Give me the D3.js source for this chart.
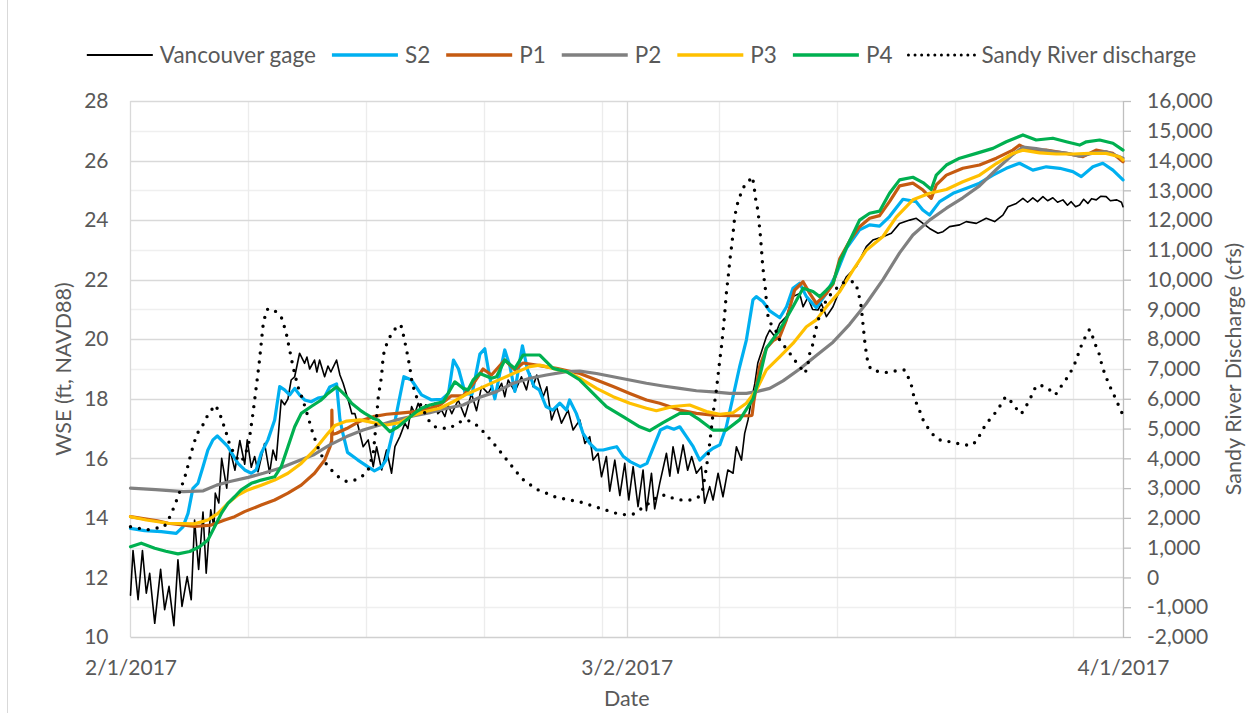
<!DOCTYPE html>
<html>
<head>
<meta charset="utf-8">
<script src="https://cdn.jsdelivr.net/npm/d3@7"></script>
<style>
  body { margin: 0; background: #fff; }
  text { font-family: Lato, "Open Sans", sans-serif; fill: #595959; }
</style>
</head>
<body>
<svg id="chart" width="1251" height="713"></svg>
<script>
// ---- data: [day offset from 2/1/2017, value] ----
const vancouverGage = [
  [0,11.4],[0.15,12.9],[0.45,11.25],[0.71,12.9],[0.94,11.47],[1.14,12.14],[1.44,10.46],[1.79,12.27],
  [2.03,10.92],[2.29,11.7],[2.58,10.38],[2.82,12.59],[3.06,11.03],[3.37,12.03],[3.61,11.25],[3.81,13.93],
  [4.05,12.27],[4.31,14.2],[4.5,12.14],[4.77,14.27],[4.96,13.7],[5.04,14.83],[5.25,14.5],[5.42,16.0],
  [5.72,15.0],[5.91,16.3],[6.21,15.6],[6.5,16.6],[6.79,15.8],[6.94,16.62],[7.18,15.7],[7.38,16.06],
  [7.58,15.55],[7.97,16.5],[8.27,15.5],[8.47,16.28],[8.66,15.94],[8.96,17.96],[9.16,17.8],[9.36,18.0],
  [9.55,18.63],[9.76,18.74],[10.05,19.53],[10.35,19.19],[10.49,19.4],[10.65,19.0],[10.94,19.3],[11.08,18.9],
  [11.24,19.3],[11.54,18.74],[11.74,19.1],[11.91,18.9],[12.25,19.3],[12.45,18.8],[12.64,18.52],[12.94,17.96],
  [13.16,17.5],[13.34,17.5],[13.54,17.06],[13.83,16.39],[14.13,16.62],[14.43,15.72],[14.63,16.39],[14.93,15.61],
  [15.22,16.28],[15.52,15.5],[15.72,16.39],[16.01,16.73],[16.31,17.18],[16.49,17.0],[16.71,17.74],[16.9,17.5],
  [17.1,17.85],[17.32,17.55],[17.56,17.8],[17.8,17.55],[18.09,17.85],[18.27,17.5],[18.49,17.62],[18.69,17.4],
  [18.87,17.8],[19.1,17.5],[19.48,17.96],[19.88,17.4],[20.27,18.18],[20.57,17.6],[20.87,18.41],[21.26,18.18],
  [21.48,18.4],[21.66,18.1],[22.06,18.52],[22.25,18.07],[22.45,18.63],[22.85,18.24],[23.24,18.74],[23.54,18.3],
  [23.75,18.85],[23.93,18.41],[24.15,18.8],[24.53,18.07],[24.75,18.4],[25.03,17.29],[25.32,17.74],[25.62,17.18],
  [26.01,17.62],[26.31,16.95],[26.71,17.29],[27.01,16.5],[27.3,16.73],[27.5,15.94],[27.8,16.17],[28.0,15.38],
  [28.29,16.06],[28.49,14.9],[28.79,15.94],[29.09,14.75],[29.38,15.83],[29.62,14.6],[29.88,15.72],[30.17,14.38],
  [30.47,15.61],[30.67,14.24],[30.97,15.5],[31.16,14.3],[31.46,15.16],[31.86,16.17],[32.06,15.4],[32.25,16.39],
  [32.55,15.5],[32.85,16.45],[33.12,15.6],[33.36,16.06],[33.64,15.5],[33.94,15.72],[34.13,14.49],[34.43,15.05],
  [34.63,14.6],[34.93,15.5],[35.22,14.71],[35.51,15.61],[35.82,15.5],[36.02,16.39],[36.32,15.94],[36.51,16.84],
  [36.71,17.29],[36.91,17.96],[37.11,18.5],[37.29,19.2],[37.52,19.6],[37.8,20.08],[38.0,20.31],[38.29,20.1],
  [38.59,20.53],[38.99,20.76],[39.38,21.43],[39.78,21.54],[39.98,21.09],[40.26,21.4],[40.55,21.0],[40.87,20.98],
  [41.07,21.2],[41.37,20.76],[41.76,21.09],[42.16,21.65],[42.56,22.1],[43.15,22.44],[43.74,23.11],[44.13,23.33],
  [44.73,23.44],[45.23,23.56],[45.72,23.89],[46.32,24.0],[46.71,24.06],[47.11,23.89],[47.5,23.72],[48.0,23.56],
  [48.3,23.61],[48.69,23.78],[49.29,23.84],[49.68,23.95],[50.28,23.89],[50.87,24.06],[51.37,23.95],[51.86,24.17],
  [52.16,24.45],[52.66,24.56],[53.05,24.73],[53.33,24.6],[53.64,24.75],[53.92,24.62],[54.24,24.79],[54.52,24.65],
  [54.83,24.75],[55.11,24.6],[55.43,24.68],[55.7,24.5],[55.92,24.62],[56.18,24.45],[56.42,24.51],[56.66,24.7],
  [56.91,24.56],[57.13,24.72],[57.41,24.68],[57.67,24.8],[58.0,24.79],[58.25,24.65],[58.63,24.68],[58.91,24.6],
  [59,24.45]
];

const s2 = [
  [0,13.65],[0.84,13.57],[1.83,13.54],[2.72,13.48],[3.12,13.7],[3.42,14.15],[3.71,14.99],[4.01,15.16],
  [4.31,15.72],[4.6,16.28],[4.9,16.62],[5.16,16.75],[5.5,16.56],[5.79,16.39],[6.09,16.11],[6.39,15.83],
  [6.79,15.61],[7.18,15.5],[7.47,15.61],[7.77,16.17],[8.17,16.62],[8.57,17.29],[8.87,18.41],[9.16,18.3],
  [9.46,18.13],[9.76,18.35],[10.05,18.13],[10.35,17.96],[10.74,17.9],[11.14,18.02],[11.54,18.07],[11.85,18.4],
  [12.25,18.5],[12.45,17.3],[12.6,16.9],[12.9,16.2],[13.5,15.95],[14.1,15.72],[14.5,15.58],[14.9,15.7],
  [15.2,15.95],[15.6,16.9],[15.95,17.9],[16.25,18.74],[16.7,18.63],[17.3,18.13],[17.9,17.96],[18.5,17.98],
  [18.9,18.18],[19.2,19.3],[19.5,19.0],[19.9,18.18],[20.3,18.15],[20.77,19.5],[21.06,19.68],[21.36,18.7],
  [21.66,18.0],[21.95,18.85],[22.25,19.64],[22.55,19.1],[22.85,18.25],[23.15,19.3],[23.3,19.78],[23.6,18.97],
  [24.0,18.41],[24.3,18.3],[24.7,17.74],[25.1,17.62],[25.52,17.85],[25.92,17.62],[26.1,17.96],[26.5,17.51],
  [26.9,16.84],[27.3,16.5],[27.7,16.28],[28.1,16.28],[28.5,16.34],[28.9,16.39],[29.3,16.06],[29.7,15.89],
  [30.3,15.72],[30.7,15.83],[31.1,16.39],[31.5,16.95],[31.9,17.06],[32.3,16.98],[32.65,17.06],[33.05,16.73],
  [33.45,16.39],[33.84,15.94],[34.24,16.17],[34.63,16.34],[35.03,16.45],[35.42,17.06],[35.82,18.07],[36.2,19.05],
  [36.61,19.97],[37.0,21.32],[37.2,21.43],[37.6,21.26],[38.0,20.95],[38.6,20.72],[39.0,21.09],[39.38,21.71],
  [39.78,21.88],[40.18,21.43],[40.77,21.06],[41.37,21.54],[41.97,22.21],[42.56,23.05],[43.34,23.67],[43.94,23.84],
  [44.53,23.8],[45.12,24.12],[45.92,24.7],[46.7,24.62],[47.1,24.34],[47.5,24.17],[48.1,24.62],[48.9,24.9],
  [49.7,25.07],[50.47,25.24],[51.27,25.51],[52.06,25.74],[52.85,25.91],[53.64,25.68],[54.44,25.79],[55.24,25.74],
  [56.02,25.63],[56.52,25.46],[57.21,25.79],[57.8,25.91],[58.4,25.68],[59,25.35]
];

const p1 = [
  [0,14.04],[1.6,13.9],[2.24,13.82],[3.8,13.71],[4.8,13.76],[5.6,13.93],[6.19,14.04],[6.78,14.21],
  [7.77,14.43],[8.57,14.6],[9.36,14.83],[10.15,15.1],[10.94,15.5],[11.54,15.94],[11.87,16.4],[11.96,16.6],
  [11.97,17.62],[12.0,16.8],[12.25,16.84],[12.85,17.0],[13.64,17.25],[14.43,17.4],[15.23,17.48],[16.0,17.52],
  [16.8,17.56],[17.6,17.65],[18.39,17.79],[19.08,18.1],[19.77,18.1],[20.37,18.5],[20.96,19.0],[21.46,18.8],
  [22.25,19.3],[22.85,18.97],[23.34,19.2],[24.13,19.13],[25.32,19.02],[26.71,18.85],[27.7,18.63],[28.69,18.41],
  [29.68,18.18],[30.67,17.96],[31.46,17.85],[32.65,17.62],[33.64,17.51],[34.63,17.45],[35.62,17.43],[36.85,17.43],
  [36.95,17.45],[37.05,17.9],[37.2,18.4],[37.4,19.08],[37.8,19.7],[38.2,19.95],[38.59,20.08],[38.99,20.65],
  [39.48,21.65],[39.98,21.93],[40.38,21.54],[40.77,21.2],[41.37,21.54],[41.76,21.85],[42.16,22.7],[42.75,23.3],
  [43.34,23.78],[43.94,24.06],[44.53,24.15],[45.12,24.62],[45.72,25.15],[46.51,25.24],[47.11,25.01],[47.6,24.73],
  [47.9,25.18],[48.5,25.51],[49.48,25.74],[50.47,25.85],[51.47,26.08],[52.45,26.35],[52.85,26.52],[53.45,26.35],
  [54.44,26.35],[55.63,26.24],[56.62,26.13],[57.4,26.35],[58.4,26.24],[59,25.96]
];

const p2 = [
  [0,15.0],[1.5,14.95],[3.14,14.88],[4.33,14.91],[5.12,15.1],[5.91,15.22],[7.0,15.36],[7.89,15.5],
  [8.88,15.67],[9.88,15.89],[10.86,16.11],[11.85,16.45],[12.85,16.73],[13.83,16.95],[14.82,17.12],[15.82,17.29],
  [16.8,17.42],[17.8,17.53],[18.79,17.68],[19.77,17.79],[20.77,18.05],[21.76,18.24],[22.75,18.52],[23.74,18.69],
  [24.73,18.8],[25.92,18.91],[26.71,18.93],[27.7,18.85],[28.69,18.74],[29.68,18.63],[30.67,18.52],[31.66,18.43],
  [32.65,18.35],[33.64,18.27],[34.63,18.23],[35.62,18.18],[36.61,18.18],[37.21,18.24],[38.0,18.35],[38.79,18.6],
  [39.78,19.0],[40.77,19.45],[41.76,19.9],[42.75,20.5],[43.74,21.2],[44.73,22.0],[45.72,22.9],[46.51,23.5],
  [47.5,24.0],[48.5,24.4],[49.48,24.75],[50.47,25.15],[51.47,25.7],[52.45,26.2],[53.05,26.45],[53.84,26.4],
  [54.83,26.3],[55.63,26.25],[56.42,26.15],[57.21,26.25],[58.0,26.3],[59,26.08]
];

const p3 = [
  [0,14.04],[0.94,13.93],[2.24,13.82],[3.8,13.8],[4.6,13.93],[5.2,14.15],[5.79,14.49],[6.39,14.77],
  [6.98,14.94],[7.77,15.1],[8.57,15.27],[9.36,15.5],[10.15,15.83],[10.94,16.28],[11.74,16.84],[12.15,17.1],
  [12.85,17.25],[13.64,17.29],[14.43,17.2],[15.23,17.12],[16.0,17.2],[16.8,17.45],[17.6,17.58],[18.39,17.68],
  [19.18,17.9],[19.96,18.15],[20.77,18.35],[21.76,18.6],[22.75,18.85],[23.74,19.08],[24.33,19.13],[25.12,19.02],
  [25.92,18.91],[26.71,18.69],[27.7,18.35],[28.69,18.07],[29.68,17.85],[30.67,17.68],[31.26,17.6],[32.25,17.74],
  [33.24,17.79],[34.24,17.57],[35.03,17.48],[35.82,17.53],[36.61,17.85],[37.21,18.3],[37.8,18.97],[38.59,19.41],
  [39.38,19.86],[40.18,20.42],[40.77,20.65],[41.37,21.09],[42.16,21.6],[42.95,22.32],[43.74,22.99],[44.73,23.45],
  [45.52,24.1],[46.51,24.68],[47.5,24.9],[48.5,25.03],[49.48,25.29],[50.47,25.51],[51.47,25.9],[52.45,26.24],
  [53.05,26.35],[54.04,26.26],[55.03,26.22],[56.02,26.22],[57.01,26.24],[58.0,26.24],[58.79,26.13],[59,26.02]
];

const p4 = [
  [0,13.03],[0.64,13.15],[1.44,12.98],[2.1,12.88],[2.82,12.79],[3.52,12.87],[4.11,13.03],[4.6,13.26],
  [5.0,13.7],[5.4,14.15],[5.79,14.49],[6.19,14.71],[6.58,14.94],[7.18,15.16],[7.77,15.27],[8.57,15.38],
  [8.96,15.72],[9.36,16.39],[9.76,17.06],[10.15,17.51],[10.74,17.74],[11.34,17.96],[11.74,18.18],[12.25,18.4],
  [12.85,18.07],[13.14,17.85],[13.64,17.62],[13.93,17.51],[14.43,17.34],[14.72,17.29],[15.42,16.9],[15.91,17.06],
  [16.51,17.34],[17.01,17.57],[17.3,17.68],[17.8,17.79],[18.59,17.9],[19.28,18.57],[19.77,18.35],[20.07,18.3],
  [20.37,18.63],[20.77,18.85],[21.46,18.69],[21.76,18.74],[22.25,19.3],[22.85,19.02],[23.34,19.47],[24.33,19.47],
  [25.12,19.02],[25.92,18.91],[26.71,18.63],[27.5,18.18],[28.29,17.74],[29.28,17.4],[30.27,17.06],[30.87,16.93],
  [31.66,17.2],[32.65,17.51],[33.24,17.51],[33.84,17.29],[34.63,16.95],[35.42,16.95],[36.22,17.3],[37.01,18.0],
  [37.4,18.74],[37.8,19.7],[38.59,20.31],[39.38,21.09],[39.98,21.71],[40.57,21.6],[40.97,21.43],[41.37,21.65],
  [41.76,21.88],[42.16,22.6],[42.75,23.3],[43.34,24.0],[43.94,24.23],[44.53,24.3],[45.12,24.9],[45.72,25.35],
  [46.51,25.44],[47.11,25.26],[47.6,25.03],[47.9,25.51],[48.5,25.85],[49.29,26.08],[50.28,26.24],[51.27,26.41],
  [52.06,26.63],[53.05,26.86],[53.84,26.69],[54.83,26.75],[55.63,26.63],[56.42,26.52],[56.82,26.63],[57.61,26.69],
  [58.4,26.58],[59,26.35]
];

// Sandy River discharge, cfs (secondary axis)
const sandyDischarge = [
  [0,1700],[0.5,1650],[1.0,1600],[1.5,1650],[2.0,1700],[2.3,1990],[2.6,2380],[2.9,2830],
  [3.1,3160],[3.3,3500],[3.45,3830],[3.6,4170],[3.8,4560],[4.0,4860],[4.3,5120],[4.6,5460],
  [4.8,5620],[5.05,5790],[5.3,5510],[5.5,5180],[5.7,4840],[5.9,4450],[6.15,4170],[6.4,3950],
  [6.6,3880],[7.0,4390],[7.28,5510],[7.48,6410],[7.67,7300],[7.87,8420],[8.07,8980],[8.27,9040],
  [8.67,8920],[9.0,8700],[9.26,8200],[9.46,7640],[9.66,7080],[9.95,6410],[10.25,5960],[10.55,5400],
  [10.84,4840],[11.24,4220],[11.73,3720],[12.45,3330],[12.85,3220],[13.34,3270],[13.74,3380],[14.13,3610],
  [14.43,4170],[14.53,4730],[14.63,5400],[14.73,6070],[14.92,6740],[15.02,7410],[15.12,7690],[15.42,8080],
  [15.82,8420],[16.07,8480],[16.2,8200],[16.41,7640],[16.6,7080],[16.74,6520],[17.0,6070],[17.3,5740],
  [17.7,5290],[18.1,5060],[18.5,5010],[19.0,5010],[19.4,5180],[19.9,5290],[20.3,5230],[20.7,5060],
  [21.06,4840],[21.36,4650],[21.66,4450],[22.06,4170],[22.45,3890],[22.85,3610],[23.24,3330],[23.64,3160],
  [24.23,2940],[24.73,2830],[25.22,2710],[26.1,2600],[26.7,2540],[27.6,2380],[28.1,2290],[28.9,2150],
  [29.48,2100],[29.9,2130],[30.6,2400],[31.2,2650],[31.76,2770],[32.25,2660],[32.75,2600],[33.25,2600],
  [33.74,2690],[34.0,2900],[34.24,3700],[34.43,4500],[34.53,5000],[34.63,5500],[34.73,5900],[34.83,6300],
  [34.93,6800],[35.03,7300],[35.13,7750],[35.23,8300],[35.33,8900],[35.43,9600],[35.53,10100],[35.63,10660],
  [35.73,11110],[35.82,11560],[35.92,12120],[36.06,12510],[36.22,12790],[36.41,13070],[36.61,13240],[36.81,13350],
  [36.97,13460],[37.07,13120],[37.17,12680],[37.31,12280],[37.37,11900],[37.45,11440],[37.51,11000],[37.57,10550],
  [37.65,10100],[37.75,9650],[37.81,9200],[37.9,8760],[38.1,8480],[38.4,8250],[38.59,7970],[38.89,7750],
  [39.19,7530],[39.48,7300],[39.78,7080],[40.1,6850],[40.28,7190],[40.38,7530],[40.58,7860],[40.68,8200],
  [40.88,8640],[41.08,8980],[41.37,9320],[41.67,9540],[41.97,9710],[42.26,9880],[42.56,9930],[42.86,9930],
  [43.05,9930],[43.24,9650],[43.44,9090],[43.54,8530],[43.64,7970],[43.74,7530],[43.84,7190],[44.03,6970],
  [44.53,6910],[45.02,6880],[45.52,6940],[46.02,6970],[46.22,6740],[46.42,6460],[46.52,6180],[46.68,5900],
  [46.87,5680],[47.01,5420],[47.21,5180],[47.5,4950],[47.8,4730],[48.2,4590],[48.69,4560],[49.18,4500],
  [49.64,4450],[50.08,4450],[50.37,4670],[50.63,4920],[50.87,5180],[51.17,5350],[51.46,5570],[51.76,5820],
  [52.02,6070],[52.36,5900],[52.65,5680],[52.95,5490],[53.25,5760],[53.45,5960],[53.64,6200],[53.84,6440],
  [54.2,6440],[54.63,6300],[54.98,6130],[55.27,6380],[55.52,6570],[55.82,6830],[56.06,7080],[56.26,7360],
  [56.42,7640],[56.58,7860],[56.77,8090],[57.01,8330],[57.21,8060],[57.37,7800],[57.57,7530],[57.77,7080],
  [57.96,6770],[58.16,6500],[58.36,6240],[58.55,6020],[58.75,5760],[58.95,5510],[59,5300]
];

const seriesNames = ["Vancouver gage", "S2", "P1", "P2", "P3", "P4", "Sandy River discharge"];
const seriesColors = ["#000000", "#00B0F0", "#C55A11", "#808080", "#FFC000", "#00B050", "#000000"];
const xTickDays = [0, 29.5, 59];
const xTickLabels = ["2/1/2017", "3/2/2017", "4/1/2017"];
const leftTicks = [10, 12, 14, 16, 18, 20, 22, 24, 26, 28];
const rightTicks = d3.range(-2000, 16001, 1000);

// ---- layout ----
const svg = d3.select("#chart");
const plot = { left: 130.5, right: 1123, top: 101, bottom: 637 };
const t0 = Date.UTC(2017, 1, 1);
const toDate = d => new Date(t0 + d * 86400000);

const x = d3.scaleUtc().domain([toDate(0), toDate(59)]).range([plot.left, plot.right]);
const yL = d3.scaleLinear().domain([10, 28]).range([plot.bottom, plot.top]);
const yR = d3.scaleLinear().domain([-2000, 16000]).range([plot.bottom, plot.top]);

const tickFont = 21, titleFont = 21.5, legendFont = 22.5;
const fontFamily = "Lato, 'Open Sans', sans-serif";

// chart frame
svg.append("line").attr("x1", 7.5).attr("x2", 7.5).attr("y1", 0).attr("y2", 713)
  .attr("stroke", "#d9d9d9").attr("stroke-width", 1);

// gridlines
const grid = svg.append("g");
d3.range(11, 28, 2).forEach(v => {
  grid.append("line").attr("x1", plot.left).attr("x2", plot.right)
    .attr("y1", Math.round(yL(v)) + 0.5).attr("y2", Math.round(yL(v)) + 0.5)
    .attr("stroke", "#efefef").attr("stroke-width", 1.3);
});
d3.range(7, 59, 7).forEach(d => {
  const px = Math.round(x(toDate(d))) + 0.5;
  grid.append("line").attr("x1", px).attr("x2", px).attr("y1", plot.top).attr("y2", plot.bottom)
    .attr("stroke", "#ececec").attr("stroke-width", 1.3);
});
d3.range(12, 29, 2).forEach(v => {
  grid.append("line").attr("x1", plot.left).attr("x2", plot.right)
    .attr("y1", Math.round(yL(v)) + 0.5).attr("y2", Math.round(yL(v)) + 0.5)
    .attr("stroke", "#d9d9d9").attr("stroke-width", 1.3);
});
{
  const px = Math.round(x(toDate(29.5))) + 0.5;
  grid.append("line").attr("x1", px).attr("x2", px).attr("y1", plot.top).attr("y2", plot.bottom)
    .attr("stroke", "#d9d9d9").attr("stroke-width", 1.3);
}
// axis lines
grid.append("line").attr("x1", plot.left).attr("x2", plot.left).attr("y1", plot.top).attr("y2", plot.bottom)
  .attr("stroke", "#d9d9d9").attr("stroke-width", 1.3);
grid.append("line").attr("x1", plot.left).attr("x2", plot.right).attr("y1", plot.bottom + 0.5).attr("y2", plot.bottom + 0.5)
  .attr("stroke", "#d0d0d0").attr("stroke-width", 1.3);

// axes
const leftAxis = svg.append("g").attr("transform", `translate(${plot.left - 22},0)`)
  .call(d3.axisLeft(yL).tickValues(leftTicks).tickSize(0).tickPadding(0).tickFormat(d3.format("d")));
leftAxis.select(".domain").remove();
leftAxis.selectAll("text").attr("font-size", tickFont).attr("fill", "#595959").attr("font-family", fontFamily);

const rightAxis = svg.append("g").attr("transform", `translate(${plot.right},0)`)
  .call(d3.axisRight(yR).tickValues(rightTicks).tickSize(8).tickPadding(16)
    .tickFormat(v => d3.format(",")(v).replace("\u2212", "-")));
rightAxis.select(".domain").attr("stroke", "#bfbfbf").attr("stroke-width", 1.3).attr("d", `M0.5,${plot.top}V${plot.bottom}`);
rightAxis.selectAll(".tick line").attr("stroke", "#bfbfbf").attr("stroke-width", 1.3);
rightAxis.selectAll("text").attr("font-size", tickFont).attr("fill", "#595959").attr("font-family", fontFamily);

const bottomAxis = svg.append("g").attr("transform", `translate(0,${plot.bottom})`)
  .call(d3.axisBottom(x).tickValues(xTickDays.map(toDate)).tickSize(0).tickPadding(23)
    .tickFormat((d, i) => xTickLabels[i]));
bottomAxis.select(".domain").remove();
bottomAxis.selectAll("text").attr("font-size", tickFont).attr("fill", "#595959").attr("font-family", fontFamily);

// axis titles
svg.append("text").attr("transform", `translate(71,${(plot.top + plot.bottom) / 2}) rotate(-90)`)
  .attr("text-anchor", "middle").attr("font-size", titleFont).text("WSE (ft, NAVD88)");
svg.append("text").attr("transform", `translate(1241,${(plot.top + plot.bottom) / 2}) rotate(-90)`)
  .attr("text-anchor", "middle").attr("font-size", titleFont).text("Sandy River Discharge (cfs)");
svg.append("text").attr("x", (plot.left + plot.right) / 2).attr("y", 706)
  .attr("text-anchor", "middle").attr("font-size", titleFont).text("Date");

// series
const lineL = d3.line().x(p => x(toDate(p[0]))).y(p => yL(p[1]));
const lineR = d3.line().x(p => x(toDate(p[0]))).y(p => yR(p[1]));
const plotG = svg.append("g");
const wseSeries = [vancouverGage, s2, p1, p2, p3, p4];
wseSeries.forEach((data, i) => {
  plotG.append("path").datum(data).attr("d", lineL)
    .attr("fill", "none").attr("stroke", seriesColors[i])
    .attr("stroke-width", i === 0 ? 1.6 : 3.2)
    .attr("stroke-linejoin", "round").attr("stroke-linecap", "round");
});
plotG.append("path").datum(sandyDischarge).attr("d", lineR)
  .attr("fill", "none").attr("stroke", seriesColors[6]).attr("stroke-width", 3.4)
  .attr("stroke-dasharray", "0 9").attr("stroke-linecap", "round");

// legend
const legend = svg.append("g");
const sampleLen = 66, gapText = 7, gapItem = 16;
let cursor = 0;
seriesNames.forEach((name, i) => {
  const g = legend.append("g");
  const ln = g.append("line").attr("x1", cursor).attr("x2", cursor + sampleLen).attr("y1", 0).attr("y2", 0)
    .attr("stroke", seriesColors[i]).attr("stroke-width", i === 0 ? 2 : 3.4);
  if (i === 6) ln.attr("stroke-dasharray", "0 6.6").attr("stroke-linecap", "round").attr("stroke-width", 3);
  const t = g.append("text").attr("x", cursor + sampleLen + gapText).attr("y", 0).attr("dy", "0.35em")
    .attr("font-size", legendFont).text(name);
  cursor += sampleLen + gapText + t.node().getComputedTextLength() + gapItem;
});
const legendWidth = cursor - gapItem;
legend.attr("transform", `translate(${641.5 - legendWidth / 2},55)`);
</script>
</body>
</html>
